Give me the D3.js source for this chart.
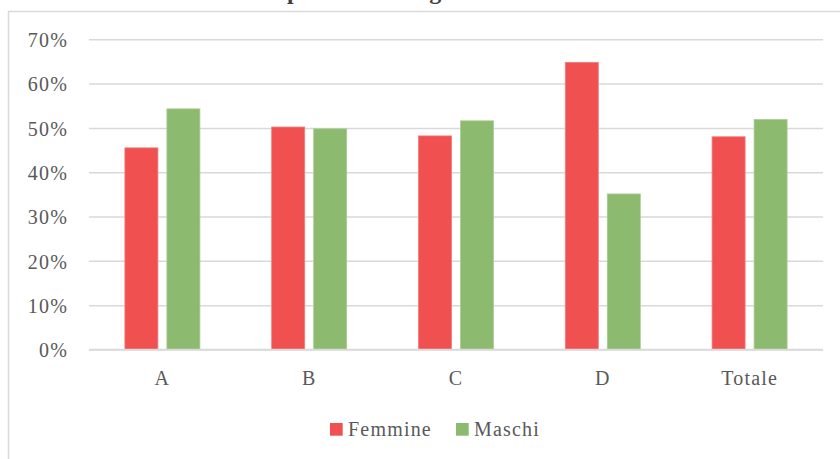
<!DOCTYPE html>
<html>
<head>
<meta charset="utf-8">
<script src="https://cdn.jsdelivr.net/npm/d3@7"></script>
<style>
  html, body { margin: 0; padding: 0; background: #fff; }
  svg { display: block; }
  text { font-family: "Liberation Serif", "Times New Roman", serif; }
</style>
</head>
<body>
<svg id="chart" width="840" height="459"></svg>
<script>
// Gender share by group
const categories = ["A", "B", "C", "D", "Totale"];
const seriesNames = ["Femmine", "Maschi"];
const femmine = [0.455, 0.502, 0.482, 0.648, 0.480];
const maschi  = [0.543, 0.498, 0.516, 0.351, 0.519];
const yTicks = [0, 0.1, 0.2, 0.3, 0.4, 0.5, 0.6, 0.7];
const colors = ["#F15050", "#8CBA6E"];
const titleText = "Composizione di genere";

const svg = d3.select("#chart");
const W = 840, H = 459;
const plot = { left: 89, right: 823, top: 39.3, bottom: 349.5 };
const labelFont = 20, labelSpacing = 1.2;

// chart area frame (continues past the right and bottom edges)
svg.append("rect")
  .attr("x", 8.5).attr("y", 11.5)
  .attr("width", W).attr("height", H)
  .attr("fill", "#fff").attr("stroke", "#D9D9D9").attr("stroke-width", 1.5);

// title, sitting above the frame (only its descenders fall inside the view)
svg.append("text")
  .attr("x", 234).attr("y", -1.5)
  .attr("font-weight", "bold").attr("font-size", 24)
  .attr("letter-spacing", 1.2)
  .attr("fill", "#404040")
  .text(titleText);

const x0 = d3.scaleBand().domain(categories)
  .range([plot.left, plot.right]).paddingInner(0).paddingOuter(0);
const y = d3.scaleLinear().domain([0, 0.7]).range([plot.bottom, plot.top]);

// gridlines and y labels
const yAxis = d3.axisLeft(y).tickValues(yTicks)
  .tickSize(-(plot.right - plot.left))
  .tickFormat(d3.format(".0%"))
  .tickPadding(21);
const gy = svg.append("g").attr("transform", `translate(${plot.left},0)`).call(yAxis);
gy.select(".domain").remove();
gy.selectAll(".tick line").attr("stroke", "#D9D9D9").attr("stroke-width", 1.5);
gy.selectAll(".tick text")
  .attr("font-family", "Liberation Serif, serif")
  .attr("font-size", labelFont).attr("letter-spacing", labelSpacing)
  .attr("fill", "#595959")
  .attr("dy", "0.36em");

// bars
const barW = 33, gap = 9;
const rows = categories.map((c, i) => ({ cat: c, vals: [femmine[i], maschi[i]] }));
const groups = svg.append("g").selectAll("g").data(rows).join("g")
  .attr("transform", d => `translate(${x0(d.cat) + x0.bandwidth() / 2},0)`);
groups.selectAll("rect").data(d => d.vals.map((v, k) => ({ v, k }))).join("rect")
  .attr("x", d => d.k === 0 ? -(barW + gap / 2) : gap / 2)
  .attr("width", barW)
  .attr("y", d => y(d.v))
  .attr("height", d => y(0) - y(d.v))
  .attr("fill", d => colors[d.k])
  .attr("stroke", d => d.k === 0 ? "#F47A7A" : "#A9CC92")
  .attr("stroke-width", 0.8);

// baseline
svg.append("line")
  .attr("x1", plot.left).attr("x2", plot.right)
  .attr("y1", y(0)).attr("y2", y(0))
  .attr("stroke", "#D9D9D9").attr("stroke-width", 1.5);

// category labels
const xAxis = d3.axisBottom(x0).tickSize(0).tickPadding(21);
const gx = svg.append("g").attr("transform", `translate(0,${plot.bottom})`).call(xAxis);
gx.select(".domain").remove();
gx.selectAll(".tick text")
  .attr("font-family", "Liberation Serif, serif")
  .attr("font-size", labelFont).attr("letter-spacing", labelSpacing)
  .attr("fill", "#595959");

// legend
const legend = svg.append("g");
const legendX = [330, 456];
seriesNames.forEach((name, k) => {
  legend.append("rect")
    .attr("x", legendX[k]).attr("y", 423)
    .attr("width", 12.7).attr("height", 12.7)
    .attr("fill", colors[k]);
  legend.append("text")
    .attr("x", legendX[k] + 18).attr("y", 436)
    .attr("font-size", labelFont).attr("letter-spacing", labelSpacing)
    .attr("fill", "#595959")
    .text(name);
});
</script>
</body>
</html>
